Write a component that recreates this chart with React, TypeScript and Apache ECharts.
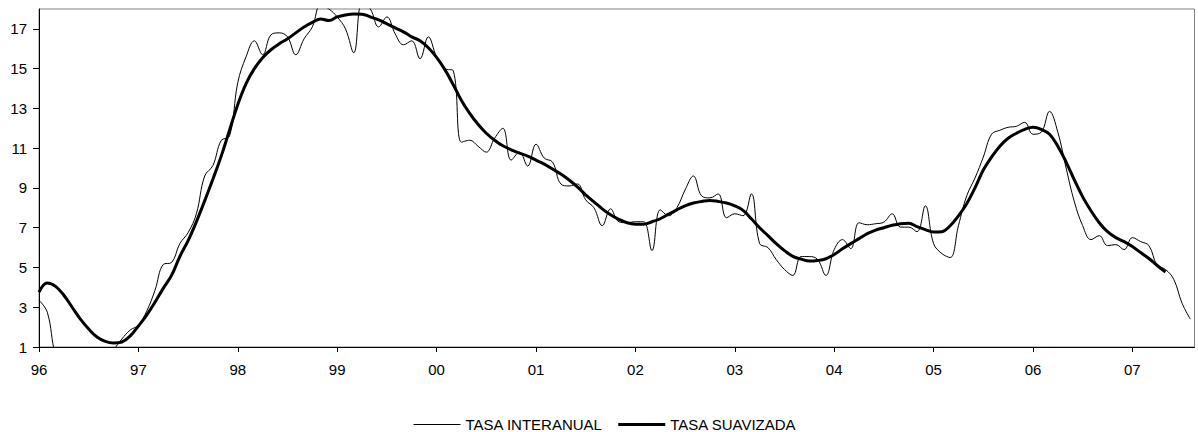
import React, { useEffect, useRef } from "react";
import * as echarts from "echarts";

// Monthly data from Jan 1996 (index 0)
const yearLabels = ["96", "97", "98", "99", "00", "01", "02", "03", "04", "05", "06", "07"];

const tasaInteranual = [
  3.35, 2.75, 0.6, 0.0, -0.3, -0.5, -0.4, -0.1, 0.3, 0.85, 1.4, 1.85,
  2.1, 2.8, 3.85, 5.15, 5.25, 6.2, 6.75, 7.7, 9.6, 10.13, 11.39, 11.6,
  14.3, 15.6, 16.4, 15.7, 16.7, 16.8, 16.6, 15.7, 16.5, 17.1, 18.2, 18.0,
  17.6, 17.0, 15.8, 18.3, 18.0, 17.1, 17.6, 16.75, 16.2, 16.4, 15.5, 16.6,
  15.6, 15.0, 14.9, 11.3, 11.4, 11.1, 10.8, 11.5, 12.0, 10.4, 10.8, 10.1,
  11.2, 10.5, 10.3, 9.2, 9.1, 9.2, 8.4, 8.0, 7.1, 7.95, 7.3, 7.25,
  7.3, 7.3, 5.85, 7.9, 7.6, 8.0, 8.9, 9.6, 8.6, 8.5, 8.7, 7.5,
  7.7, 7.6, 8.7, 6.2, 6.0, 5.4, 4.9, 4.6, 5.55, 5.55, 5.4, 4.6,
  5.9, 6.4, 5.95, 7.25, 7.15, 7.2, 7.28, 7.7, 7.03, 7.03, 6.8, 8.1,
  6.2, 5.7, 5.5, 7.1, 8.6, 9.5, 10.55, 11.7, 11.9, 12.05, 12.1, 12.3,
  11.7, 11.8, 12.85, 11.8, 10.0, 8.3, 7.1, 6.4, 6.6, 6.1, 6.15, 5.9,
  6.5, 6.3, 6.1, 5.1, 4.9, 4.4, 3.2, 2.4,
];

const tasaSuavizada = [
  3.76, 4.22, 4.05, 3.6, 3.0, 2.4, 1.9, 1.5, 1.28, 1.2, 1.25, 1.55,
  2.05, 2.6, 3.25, 3.95, 4.6, 5.55, 6.35, 7.3, 8.35, 9.45, 10.6, 11.9,
  13.2, 14.25, 15.0, 15.55, 15.95, 16.25, 16.5, 16.8, 17.1, 17.33, 17.5, 17.42,
  17.6, 17.7, 17.75, 17.74, 17.6, 17.45, 17.25, 17.05, 16.85, 16.6, 16.4, 16.05,
  15.57, 14.95, 14.2, 13.4, 12.75, 12.2, 11.75, 11.4, 11.12, 10.92, 10.75, 10.6,
  10.4, 10.2, 9.95, 9.7, 9.4, 9.05, 8.65, 8.3, 7.95, 7.65, 7.42, 7.25,
  7.18, 7.18, 7.3, 7.45, 7.68, 7.9, 8.1, 8.24, 8.32, 8.37, 8.32, 8.24,
  8.1, 7.87, 7.45, 7.0, 6.6, 6.2, 5.85, 5.56, 5.42, 5.32, 5.35, 5.44,
  5.65, 5.94, 6.2, 6.45, 6.7, 6.88, 7.0, 7.12, 7.2, 7.23, 7.05, 6.9,
  6.78, 6.8, 7.1, 7.6, 8.21, 9.0, 9.9, 10.55, 11.1, 11.5, 11.75, 11.95,
  12.05, 11.95, 11.7, 11.1, 10.3, 9.4, 8.55, 7.85, 7.25, 6.8, 6.5, 6.3,
  6.05, 5.75, 5.45, 5.1, 4.77,
];

const FONT = "Arial, 'Liberation Sans', sans-serif";

export default function App() {
  const ref = useRef<HTMLDivElement>(null);
  useEffect(() => {
    if (!ref.current) return;
    const chart = echarts.init(ref.current, undefined, { renderer: "svg" });
    chart.setOption({
      animation: false,
      backgroundColor: "#ffffff",
      textStyle: { fontFamily: FONT },
      grid: {
        left: 39,
        right: 3.5,
        top: 9,
        bottom: 85,
        show: true,
        borderColor: "#808080",
        borderWidth: 1,
        containLabel: false,
      },
      legend: {
        left: 408,
        top: 412,
        itemWidth: 47,
        itemHeight: 14,
        itemGap: 14,
        itemStyle: { opacity: 0 },
        textStyle: { fontFamily: FONT, fontSize: 15, color: "#000" },
        data: [
          { name: "TASA INTERANUAL", lineStyle: { width: 1, color: "#000" } },
          { name: "TASA SUAVIZADA", lineStyle: { width: 3, color: "#000" } },
        ],
      },
      xAxis: {
        type: "value",
        min: 0,
        max: 139.5,
        interval: 12,
        axisLine: { lineStyle: { color: "#000", width: 1 } },
        axisTick: { show: true, length: 5, lineStyle: { color: "#000" } },
        splitLine: { show: false },
        axisLabel: {
          margin: 15,
          fontSize: 15,
          fontFamily: FONT,
          color: "#000",
          showMaxLabel: false,
          formatter: (v: number) => yearLabels[Math.round(v / 12)] ?? "",
        },
      },
      yAxis: {
        type: "value",
        min: 1,
        max: 18,
        interval: 2,
        axisLine: { show: true, lineStyle: { color: "#000", width: 1 } },
        axisTick: { show: true, length: 6, lineStyle: { color: "#000" } },
        splitLine: { show: false },
        axisLabel: {
          margin: 12,
          fontSize: 15,
          fontFamily: FONT,
          color: "#000",
          showMaxLabel: false,
        },
      },
      series: [
        {
          name: "TASA INTERANUAL",
          type: "line",
          data: tasaInteranual.map((v, i) => [i, v]),
          symbol: "none",
          smooth: 0.4,
          clip: true,
          lineStyle: { color: "#000", width: 1 },
          itemStyle: { color: "#000" },
        },
        {
          name: "TASA SUAVIZADA",
          type: "line",
          data: tasaSuavizada.map((v, i) => [i, v]),
          symbol: "none",
          smooth: 0.4,
          clip: true,
          lineStyle: { color: "#000", width: 3 },
          itemStyle: { color: "#000" },
        },
      ],
    });
    return () => chart.dispose();
  }, []);
  return (
    <div
      ref={ref}
      style={{ position: "absolute", left: 0, top: 0, width: 1198, height: 432 }}
    />
  );
}
